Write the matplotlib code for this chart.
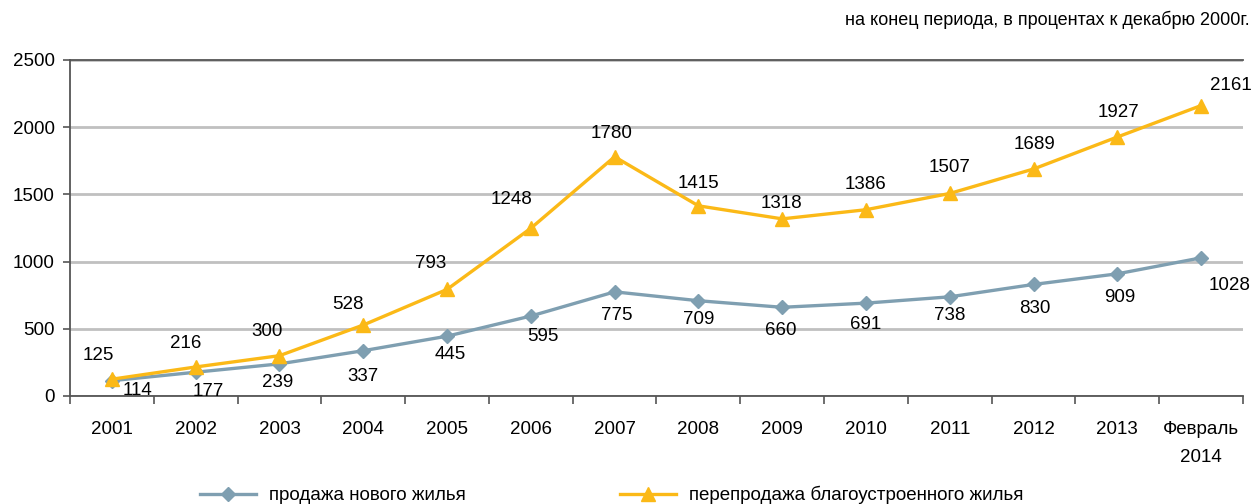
import matplotlib
matplotlib.use("Agg")
import matplotlib.pyplot as plt
from matplotlib.lines import Line2D

plt.rcParams["font.family"] = ["Liberation Sans", "DejaVu Sans"]
plt.rcParams["font.size"] = 13.5

categories = ["2001", "2002", "2003", "2004", "2005", "2006", "2007",
              "2008", "2009", "2010", "2011", "2012", "2013", "Февраль\n2014"]
new_housing = [114, 177, 239, 337, 445, 595, 775, 709, 660, 691, 738, 830, 909, 1028]
resale_housing = [125, 216, 300, 528, 793, 1248, 1780, 1415, 1318, 1386, 1507, 1689, 1927, 2161]

BLUE = "#7f9fb1"
YELLOW = "#fbb917"
AXIS = "#555555"

# label offsets in pixels relative to each point
new_offsets = [(26, -10), (13, -19), (-2, -19), (0, -26), (3, -18), (12, -20), (2, -24),
               (0, -19), (-1, -23), (0, -21), (0, -19), (1, -24), (2, -24), (28, -28)]
resale_offsets = [(-14, 24), (-10, 23), (-12, 24), (-15, 21), (-16, 26), (-19, 29), (-3, 23),
                  (0, 22), (-1, 15), (0, 25), (0, 26), (1, 24), (1, 25), (30, 20)]

fig = plt.figure(figsize=(12.55, 5.04), dpi=100)
ax = fig.add_axes([70 / 1255, 1 - 396 / 504, (1243 - 70) / 1255, (396 - 60) / 504])

x = list(range(len(categories)))
ax.plot(x, new_housing, color=BLUE, lw=2.4, marker="D", ms=7, zorder=3)
ax.plot(x, resale_housing, color=YELLOW, lw=2.4, marker="^", ms=10, zorder=4)

for xi, v, (dx, dy) in zip(x, new_housing, new_offsets):
    ax.annotate(str(v), (xi, v), xytext=(dx, dy), textcoords="offset pixels",
                ha="center", va="center", zorder=5)
for xi, v, (dx, dy) in zip(x, resale_housing, resale_offsets):
    ax.annotate(str(v), (xi, v), xytext=(dx, dy), textcoords="offset pixels",
                ha="center", va="center", zorder=5)

ax.set_xlim(-0.5, len(categories) - 0.5)
ax.set_ylim(0, 2500)
ax.set_yticks(range(0, 2501, 500))
ax.set_xticks(x)
ax.set_xticklabels(categories, linespacing=1.85, va="top")
ax.set_xticks([i + 0.5 for i in range(-1, len(categories))], minor=True)
ax.tick_params(axis="x", which="major", length=0, pad=18)
ax.tick_params(axis="x", which="minor", length=6, width=1.2, color=AXIS, direction="out")
ax.tick_params(axis="y", length=5, width=1.2, color=AXIS, pad=6)

ax.grid(axis="y", color="#c0c0c0", lw=2)
ax.set_axisbelow(True)
for side in ("left", "bottom", "top"):
    ax.spines[side].set_color(AXIS)
    ax.spines[side].set_linewidth(1.3)
ax.spines["right"].set_visible(False)

fig.text(1250 / 1255, 1 - 20 / 504, "на конец периода, в процентах к декабрю 2000г.",
         ha="right", va="center", fontsize=13)

handles = [
    Line2D([], [], color=BLUE, lw=2.4, marker="D", ms=7),
    Line2D([], [], color=YELLOW, lw=2.4, marker="^", ms=10),
]
fig.legend(handles, ["продажа нового жилья", "перепродажа благоустроенного жилья"],
           loc="center left", bbox_to_anchor=(200 / 1255, 1 - 495 / 504), ncol=2,
           frameon=False, handlelength=3.0, handletextpad=0.7, columnspacing=8.2,
           borderpad=0, borderaxespad=0)

fig.savefig("out.png", dpi=100)
